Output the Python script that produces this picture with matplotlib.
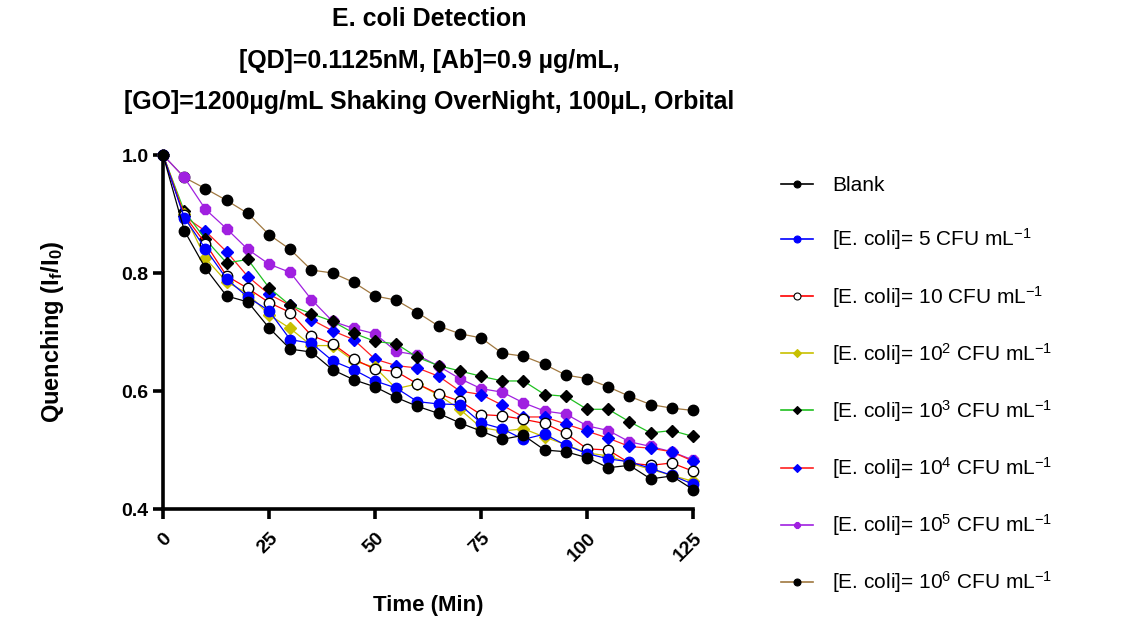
import matplotlib
matplotlib.use('Agg')
import matplotlib.pyplot as plt

plt.rcParams['font.family'] = ['Liberation Sans', 'DejaVu Sans']
plt.rcParams['mathtext.fontset'] = 'custom'
plt.rcParams['mathtext.rm'] = 'Liberation Sans'
plt.rcParams['mathtext.it'] = 'Liberation Sans'
plt.rcParams['mathtext.bf'] = 'Liberation Sans:bold'

time = [0, 5, 10, 15, 20, 25, 30, 35, 40, 45, 50, 55, 60, 65, 70, 75, 80, 85, 90, 95, 100, 105, 110, 115, 120, 125]

blank = [1.0, 0.872, 0.808, 0.761, 0.751, 0.707, 0.671, 0.666, 0.636, 0.619, 0.607, 0.589, 0.574,
         0.562, 0.546, 0.532, 0.518, 0.525, 0.500, 0.497, 0.487, 0.470, 0.474, 0.451, 0.456, 0.433]
ec_5 = [1.0, 0.894, 0.841, 0.790, 0.759, 0.736, 0.687, 0.681, 0.651, 0.636, 0.617, 0.605, 0.582,
        0.578, 0.577, 0.546, 0.536, 0.518, 0.527, 0.508, 0.494, 0.485, 0.480, 0.469, 0.457, 0.442]
ec_10 = [1.0, 0.898, 0.850, 0.795, 0.774, 0.750, 0.733, 0.694, 0.680, 0.654, 0.637, 0.633, 0.612,
         0.595, 0.583, 0.560, 0.558, 0.552, 0.545, 0.528, 0.502, 0.500, 0.478, 0.474, 0.478, 0.464]
ec_1e2 = [1.0, 0.900, 0.825, 0.785, 0.765, 0.729, 0.706, 0.677, 0.677, 0.651, 0.640, 0.604, 0.612,
          0.593, 0.569, 0.538, 0.532, 0.536, 0.522, 0.509, 0.495, 0.490, 0.478, 0.467, 0.457, 0.447]
ec_1e3 = [1.0, 0.905, 0.857, 0.817, 0.823, 0.775, 0.745, 0.731, 0.718, 0.698, 0.684, 0.680, 0.657,
          0.643, 0.634, 0.625, 0.617, 0.617, 0.594, 0.591, 0.569, 0.569, 0.548, 0.529, 0.533, 0.523]
ec_1e4 = [1.0, 0.896, 0.871, 0.836, 0.794, 0.764, 0.745, 0.721, 0.702, 0.687, 0.654, 0.643, 0.639,
          0.625, 0.600, 0.594, 0.576, 0.556, 0.556, 0.544, 0.532, 0.520, 0.506, 0.503, 0.497, 0.481]
ec_1e5 = [1.0, 0.962, 0.908, 0.875, 0.840, 0.815, 0.801, 0.755, 0.718, 0.706, 0.697, 0.667, 0.661,
          0.642, 0.621, 0.604, 0.598, 0.580, 0.566, 0.561, 0.541, 0.533, 0.514, 0.506, 0.497, 0.483]
ec_1e6 = [1.0, 0.962, 0.943, 0.923, 0.901, 0.865, 0.840, 0.805, 0.800, 0.784, 0.761, 0.754, 0.733,
          0.710, 0.697, 0.690, 0.664, 0.659, 0.645, 0.627, 0.621, 0.607, 0.591, 0.577, 0.571, 0.567]

labels = ['Blank',
          '[E. coli]= 5 CFU mL$^{-1}$',
          '[E. coli]= 10 CFU mL$^{-1}$',
          '[E. coli]= 10$^{2}$ CFU mL$^{-1}$',
          '[E. coli]= 10$^{3}$ CFU mL$^{-1}$',
          '[E. coli]= 10$^{4}$ CFU mL$^{-1}$',
          '[E. coli]= 10$^{5}$ CFU mL$^{-1}$',
          '[E. coli]= 10$^{6}$ CFU mL$^{-1}$']
series = [blank, ec_5, ec_10, ec_1e2, ec_1e3, ec_1e4, ec_1e5, ec_1e6]

# (line colour, marker, marker face, marker edge)
styles = [('black', 'o', 'black', 'black'),
          ('#0000ff', 'o', '#0000ff', '#0000ff'),
          ('#ff0000', 'o', 'white', 'black'),
          ('#c8c000', 'D', '#c8c000', '#c8c000'),
          ('#20c020', 'D', 'black', 'black'),
          ('#ff2020', 'D', '#0000ff', '#0000ff'),
          ('#a020e0', '8', '#a020e0', '#a020e0'),
          ('#a07840', 'o', 'black', 'black')]

fig = plt.figure(figsize=(11.41, 6.25), dpi=100)
ax = fig.add_axes([0.1429, 0.1856, 0.4645, 0.5664])

handles = []
for i in reversed(range(len(series))):
    lc, mk, mf, me = styles[i]
    ms = 7.5 if mk == 'o' else 6.5
    if mk == '8':
        ms = 8
    ax.plot(time, series[i], color=lc, lw=0.9, marker=mk, ms=ms, mfc=mf, mec=me,
            mew=1.0, clip_on=False)

for i in range(len(series)):
    lc, mk, mf, me = styles[i]
    h, = ax.plot([], [], color=lc, lw=1.2, marker=mk, ms=5 if mk != 'D' else 4.5,
                 mfc=mf, mec=me, mew=0.8)
    handles.append(h)

ax.set_xlim(0, 125)
ax.set_ylim(0.4, 1.0)
ax.set_xticks([0, 25, 50, 75, 100, 125])
ax.set_yticks([0.4, 0.6, 0.8, 1.0])
ax.set_yticklabels(['0.4', '0.6', '0.8', '1.0'])
for s in ['top', 'right']:
    ax.spines[s].set_visible(False)
for s in ['left', 'bottom']:
    ax.spines[s].set_linewidth(2.6)
ax.tick_params(width=2.6, length=7, labelsize=14)
ax.tick_params(axis='x', pad=8)
for t in ax.get_xticklabels():
    t.set_rotation(45)
    t.set_fontweight('bold')
    t.set_ha('right')
    t.set_rotation_mode('anchor')
for t in ax.get_yticklabels():
    t.set_fontweight('bold')

ax.set_xlabel('Time (Min)', fontsize=16, fontweight='bold', labelpad=22)
ax.set_ylabel('Quenching (I$_\\mathbf{f}$/I$_\\mathbf{0}$)', fontsize=17, fontweight='bold', labelpad=40)

fig.text(0.376, 0.97, 'E. coli Detection', ha='center', va='center', fontsize=18, fontweight='bold')
fig.text(0.376, 0.902, '[QD]=0.1125nM, [Ab]=0.9 µg/mL,', ha='center', va='center',
         fontsize=18, fontweight='bold')
fig.text(0.376, 0.836, '[GO]=1200µg/mL Shaking OverNight, 100µL, Orbital', ha='center',
         va='center', fontsize=18, fontweight='bold')

fig.legend(handles, labels, loc='upper left', bbox_to_anchor=(0.668, 0.748), frameon=False,
           fontsize=15, labelspacing=1.5, handlelength=1.55, handletextpad=0.9)

fig.savefig('out.png', dpi=100)
